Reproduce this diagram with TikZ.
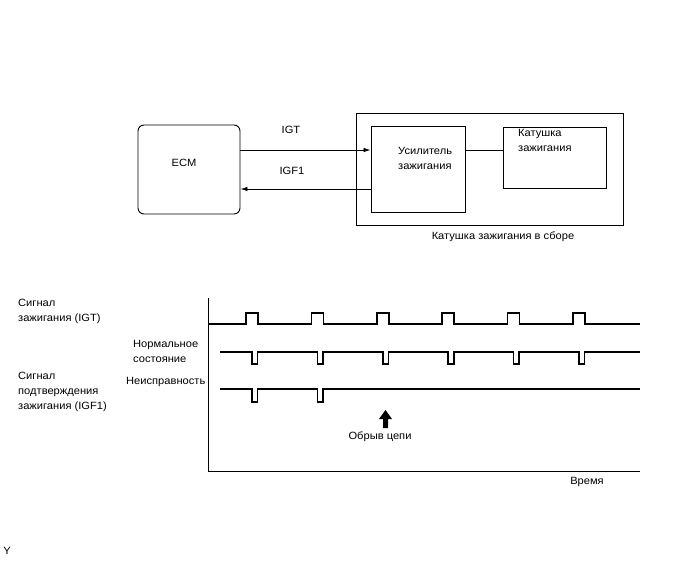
\documentclass[tikz,border=0pt]{standalone}
\usepackage{fontspec}
\setmainfont[FakeStretch=1.06]{Liberation Sans}
\usetikzlibrary{arrows.meta}
\begin{document}
\begin{tikzpicture}[x=1pt,y=-1pt,
  box/.style={draw,line width=0.9pt,inner sep=0},
  txt/.style={font=\fontsize{10.5}{15}\selectfont,inner sep=0,align=left},
  sig/.style={line width=1.6pt,line join=miter},
  conn/.style={line width=0.8pt},
  axisline/.style={line width=0.8pt},
  tip/.style={-{Latex[length=7pt,width=4.5pt]}}]
\useasboundingbox (0,0) rectangle (688,560);
% --- block diagram ---
\node[box,rounded corners=6pt,minimum width=102pt,minimum height=89pt] (ecm) at (189,169.5) {};
\node[txt] (ecmtxt) at (184,163) {ECM};
\node[box,minimum width=267pt,minimum height=112pt] (outer) at (489.5,169) {};
\node[box,minimum width=94pt,minimum height=86pt] (amp) at (418,169) {};
\node[box,minimum width=103pt,minimum height=61pt] (coil) at (554.5,157.5) {};
\node[txt,anchor=west] (amptxt) at (398,158) {Усилитель\\зажигания};
\node[txt,anchor=west] (coiltxt) at (518,140) {Катушка\\зажигания};
\node[txt] (outertxt) at (503,236.5) {Катушка зажигания в сборе};
\coordinate (igt) at (0,150);
\coordinate (igf) at (0,189);
\draw[conn,tip] (ecm.east |- igt) -- (amp.west |- igt);
\draw[conn,tip] (amp.west |- igf) -- (ecm.east |- igf);
\draw[conn] (amp.east |- igt) -- (coil.west |- igt);
\node[txt] (igtlbl) at (291,129.5) {IGT};
\node[txt] (igflbl) at (292,171) {IGF1};
% --- timing chart ---
\coordinate (axtop) at (208,298);
\coordinate (axorg) at (208,471);
\coordinate (axend) at (640,471);
\draw[axisline] (axtop) -- (axorg) -- (axend);
\draw[sig] (208,324) foreach \x in {246,311.4,376.8,442.2,507.6,573} { -- (\x,324) -- (\x,313) -- (\x+12,313) -- (\x+12,324) } -- (640,324);
\draw[sig] (220,352) foreach \x in {252,317.4,382.8,448.2,513.6,579} { -- (\x,352) -- (\x,364) -- (\x+5.5,364) -- (\x+5.5,352) } -- (640,352);
\draw[sig] (220,389) foreach \x in {252,317.4} { -- (\x,389) -- (\x,402) -- (\x+5.5,402) -- (\x+5.5,389) } -- (640,389);
\fill (383,428) -- (383,419) -- (379,419) -- (385.5,410) -- (392,419) -- (388,419) -- (388,428) -- cycle;
\node[txt,anchor=west] (l1) at (18,311) {Сигнал\\зажигания (IGT)};
\node[txt,anchor=west] (l2) at (133,351) {Нормальное\\состояние};
\node[txt,anchor=west] (l3) at (126,382) {Неисправность};
\node[txt,anchor=west] (l4) at (18,392) {Сигнал\\подтверждения\\зажигания (IGF1)};
\node[txt] (brk) at (380,437) {Обрыв цепи};
\node[txt] (time) at (587,482) {Время};
\node[txt] (ymark) at (7,551) {Y};
\end{tikzpicture}
\end{document}
